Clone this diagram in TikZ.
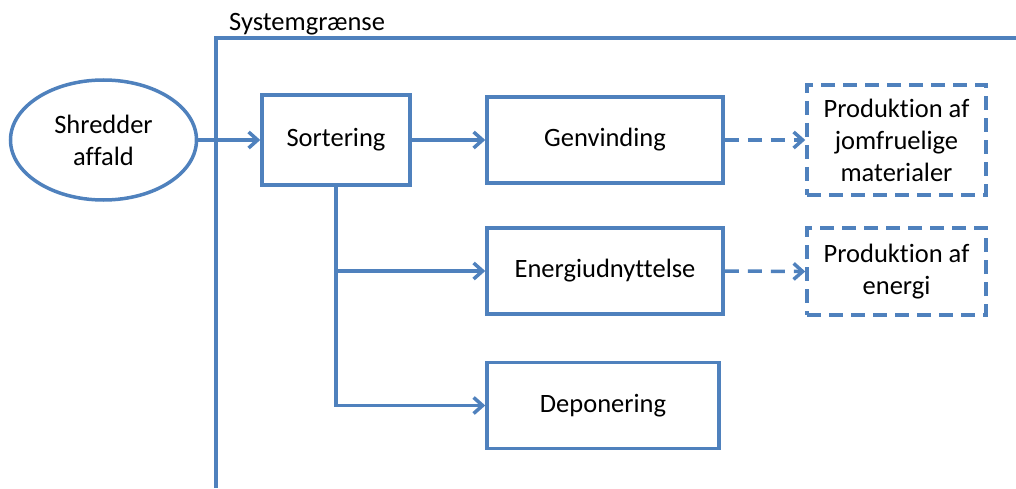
\documentclass[tikz,border=0pt]{standalone}
\usepackage{fontspec}
\setmainfont[Ligatures=NoCommon]{Carlito}
\usetikzlibrary{shapes.geometric,arrows.meta}
\definecolor{ablue}{HTML}{4F81BD}
\begin{document}
\begin{tikzpicture}[x=1pt,y=1pt,
  every node/.style={font=\fontsize{26.5}{32}\selectfont, text=black, align=center},
  procbox/.style={draw=ablue, line width=3.5pt, rectangle, inner sep=0pt},
  dashbox/.style={draw=ablue, line width=3.5pt, rectangle, inner sep=0pt, dash pattern=on 14pt off 8pt},
  flow/.style={draw=ablue, line width=3.5pt, -{Straight Barb[length=9pt,width=16pt]}},
  dflow/.style={flow, dash pattern=on 14pt off 9pt}
]
\useasboundingbox (0,0) rectangle (1016,488);
% system boundary
\coordinate (sbB) at (216,0);
\coordinate (sbC) at (216,450);
\coordinate (sbR) at (1016,450);
\draw[ablue, line width=3.5pt] (sbB) -- (sbC) -- (sbR);
\node[anchor=base west, inner sep=0pt] (sblabel) at (229,457) {Systemgrænse};
% nodes
\node[ellipse, draw=ablue, line width=3.5pt, minimum width=186pt, minimum height=120pt, inner sep=0pt] (shred) at (103.5,348) {Shredder\\affald};
\node[procbox, minimum width=148pt, minimum height=90pt] (sort) at (336,348) {\raisebox{-3pt}{Sortering}};
\node[procbox, minimum width=236pt, minimum height=86pt] (gen) at (605,348) {\raisebox{-3pt}{Genvinding}};
\node[procbox, minimum width=236pt, minimum height=86pt] (en) at (605,217) {\raisebox{-3pt}{Energiudnyttelse}};
\node[procbox, minimum width=232pt, minimum height=86pt] (dep) at (603,82.5) {\raisebox{-3pt}{Deponering}};
\node[dashbox, minimum width=179pt, minimum height=110pt] (pj) at (896.5,348) {Produktion af\\jomfruelige\\materialer};
\node[dashbox, minimum width=179pt, minimum height=87pt] (pe) at (896.5,216.5) {Produktion af\\energi};
% connectors
\draw[flow] (shred.east) -- (sort.west);
\draw[flow] (sort.east) -- (gen.west);
\coordinate (jen) at (sort.south |- en.west);
\draw[flow] (sort.south) |- (dep.west);
\draw[flow] (jen) -- (en.west);
\draw[dflow] (gen.east) -- (pj.west);
\draw[dflow] (en.east) -- (pe.west);
\end{tikzpicture}
\end{document}
